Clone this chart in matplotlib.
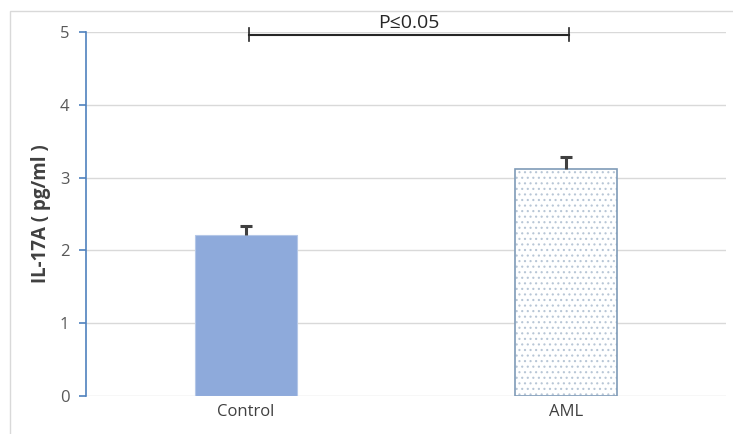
import matplotlib.pyplot as plt
from matplotlib.patches import Rectangle

groups = ["Control", "AML"]
means = [2.21, 3.12]
errors = [0.12, 0.16]
y_ticks = [0, 1, 2, 3, 4, 5]
sig_label = "P\u22640.05"

plt.rcParams['font.family'] = ['Open Sans', 'DejaVu Sans']
plt.rcParams['hatch.linewidth'] = 0.8

fig = plt.figure(figsize=(7.33, 4.34), dpi=100)
ax = fig.add_axes([86 / 733, 38 / 434, 640 / 733, 364 / 434])

# outer chart frame
fig.patches.append(Rectangle((10 / 733, -0.01), 1.0, (434 - 11) / 434 + 0.01,
                             transform=fig.transFigure, fill=False,
                             edgecolor='#d9d9d9', linewidth=1))

x = [0, 1]
ax.bar(0, means[0], width=0.32, color='#8eaadb', edgecolor='#b4c7e7', linewidth=0.8, zorder=3)
ax.bar(1, means[1], width=0.32, color='white', edgecolor='#b8c6d6', hatch='...',
       linewidth=0, zorder=3)
ax.bar(1, means[1], width=0.32, fill=False, edgecolor='#7f9bb8', linewidth=1.2, zorder=4)

# upper error bars only
tops = [m + e for m, e in zip(means, errors)]
ax.vlines(x, means, tops, color='#404040', linewidth=2.2, zorder=5)
ax.hlines(tops, [i - 0.018 for i in x], [i + 0.018 for i in x], color='#404040',
          linewidth=2.2, zorder=5)

ax.set_xlim(-0.5, 1.5)
ax.set_ylim(0, 5)
ax.set_yticks(y_ticks)
ax.set_xticks(x)
ax.set_xticklabels(groups)
ax.yaxis.grid(True, color='#d9d9d9', linewidth=1, zorder=0)
ax.set_axisbelow(True)
for s in ['top', 'right', 'bottom']:
    ax.spines[s].set_visible(False)
ax.spines['left'].set_color('#4f81bd')
ax.spines['left'].set_linewidth(1.2)
ax.tick_params(axis='y', colors='#4f81bd', length=5, width=1.2, labelcolor='#595959',
               labelsize=12, pad=7)
ax.tick_params(axis='x', length=0, labelcolor='#404040', labelsize=12, pad=6)
ax.set_ylabel("IL-17A ( pg/ml )", fontsize=13.5, fontweight='bold', color='#404040', labelpad=6)

# significance bracket
ax.plot([0.01, 1.01], [4.96, 4.96], color='#262626', linewidth=1.5, clip_on=False, zorder=6)
for xb in [0.01, 1.01]:
    ax.plot([xb, xb], [4.87, 5.05], color='#262626', linewidth=1.2, clip_on=False, zorder=6)
ax.text(0.51, 5.0, sig_label, ha='center', va='bottom', fontsize=14, color='#262626')

fig.savefig("out.png", dpi=100)
